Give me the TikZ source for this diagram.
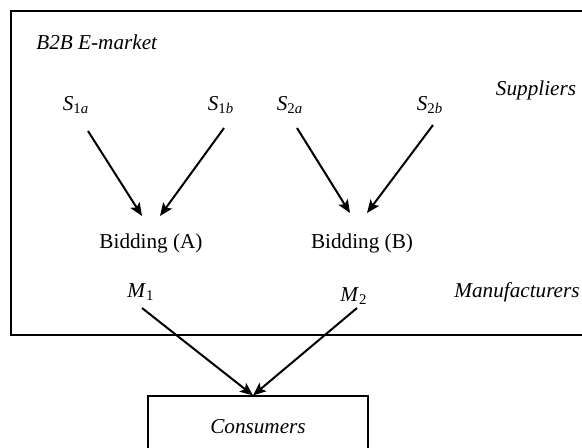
\documentclass[tikz,border=0pt]{standalone}
\usepackage{fontspec}
\setmainfont{Liberation Serif}
\usetikzlibrary{arrows.meta, calc}
\newcommand{\agent}[2]{\textit{#1}\textsubscript{#2}}

\begin{document}
\begin{tikzpicture}[
    x=0.5pt, y=-0.5pt,
    every node/.style={inner sep=0pt, font=\fontsize{10.6}{12.7}\selectfont},
    tag/.style={font=\fontsize{10.6}{12.7}\selectfont\itshape},
    frame/.style={draw=black, line width=0.6pt},
    arrow/.style={-{Stealth[length=6.5pt, width=5.4pt, inset=1.4pt]}, line width=1pt}
]
\useasboundingbox (0,0) rectangle (582,447);

% E-market frame
\draw[frame] (11,11) rectangle (590,335);
\node[tag, anchor=west] (market) at (36,42) {B2B E-market};

% Suppliers
\node (s1a) at (76,105) {\agent{S}{1\textit{a}}};
\node (s1b) at (221,105) {\agent{S}{1\textit{b}}};
\node (s2a) at (290,105) {\agent{S}{2\textit{a}}};
\node (s2b) at (430,105) {\agent{S}{2\textit{b}}};
\node[tag] (supp) at (536,90) {Suppliers};

% Bidding
\node (bidA) at (151,243) {Bidding (A)};
\node (bidB) at (362,243) {Bidding (B)};

\draw[arrow] ($(s1a)+(12,26)$) -- ($(bidA)+(-9,-27)$);
\draw[arrow] ($(s1b)+(3,23)$) -- ($(bidA)+(9,-27)$);
\draw[arrow] ($(s2a)+(7,23)$) -- ($(bidB)+(-12,-30)$);
\draw[arrow] ($(s2b)+(3,20)$) -- ($(bidB)+(5,-30)$);

% Manufacturers
\node (m1) at (141,292) {\agent{M}{1}};
\node (m2) at (354,296) {\agent{M}{2}};
\node[tag] (manu) at (517,292) {Manufacturers};

% Consumers
\node[frame, tag, minimum width=110pt, minimum height=31pt] (cons) at (258,427) {Consumers};

\draw[arrow] ($(m1)+(1,16)$) -- ($(cons.north)+(-5,0)$);
\draw[arrow] ($(m2)+(3,12)$) -- ($(cons.north)+(-5,0)$);

\end{tikzpicture}
\end{document}
